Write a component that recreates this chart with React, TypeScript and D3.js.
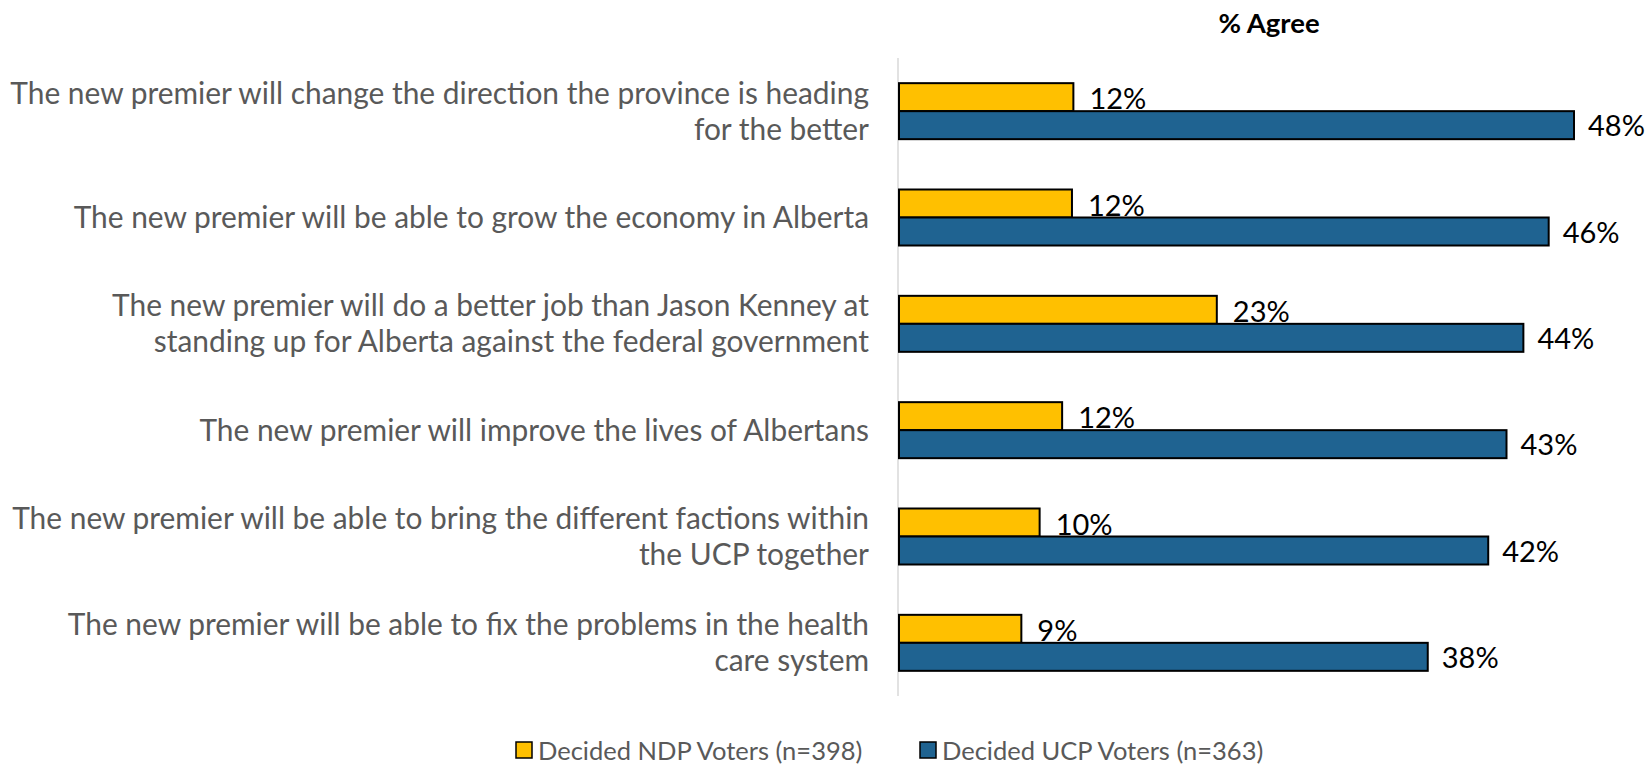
import * as d3 from "d3";

const categories = [
  ["The new premier will change the direction the province is heading", "for the better"],
  ["The new premier will be able to grow the economy in Alberta"],
  ["The new premier will do a better job than Jason Kenney at", "standing up for Alberta against the federal government"],
  ["The new premier will improve the lives of Albertans"],
  ["The new premier will be able to bring the different factions within", "the UCP together"],
  ["The new premier will be able to fix the problems in the health", "care system"],
];
const ndpValues = [12.4, 12.3, 22.6, 11.6, 10.0, 8.7];
const ucpValues = [48.0, 46.2, 44.4, 43.2, 41.9, 37.6];
const seriesNames = ["Decided NDP Voters (n=398)", "Decided UCP Voters (n=363)"];
const seriesColors = ["#FFC000", "#1F6391"];

const W = 1649;
const H = 765;
const font = "Lato, 'Open Sans', sans-serif";

const App = () => {
  const x = d3.scaleLinear().domain([0, 48]).range([899, 1574]);
  const y = d3
    .scaleBand<number>()
    .domain(d3.range(categories.length))
    .range([58, 696]);
  const barH = 28;
  const fmt = (v: number) => `${Math.round(v)}%`;

  return (
    <svg width={W} height={H} style={{ display: "block", position: "absolute", left: 0, top: 0 }} fontFamily={font}>
      <rect width={W} height={H} fill="#fff" />
      <text x={1269} y={33} textAnchor="middle" fontSize={27.5} fontWeight="bold" fill="#000">
        % Agree
      </text>
      <line x1={898} x2={898} y1={58} y2={696} stroke="#D9D9D9" strokeWidth={1.5} />
      {categories.map((lines, i) => {
        const cy = (y(i) ?? 0) + y.bandwidth() / 2;
        const lh = 36;
        const top = cy - ((lines.length - 1) * lh) / 2;
        return (
          <g key={i}>
            {lines.map((ln, j) => (
              <text key={j} x={869} y={top + j * lh} dy="0.35em" textAnchor="end" fontSize={29.9} fill="#595959">
                {ln}
              </text>
            ))}
            <rect x={x(0)} y={cy - barH} width={x(ndpValues[i]) - x(0)} height={barH} fill={seriesColors[0]} stroke="#000" strokeWidth={2} />
            <rect x={x(0)} y={cy} width={x(ucpValues[i]) - x(0)} height={barH} fill={seriesColors[1]} stroke="#000" strokeWidth={2} />
            <text x={x(ndpValues[i]) + 16} y={cy - barH / 2 + 2} dy="0.35em" fontSize={29} fill="#000">
              {fmt(ndpValues[i])}
            </text>
            <text x={x(ucpValues[i]) + 14} y={cy + barH / 2 + 1} dy="0.35em" fontSize={29} fill="#000">
              {fmt(ucpValues[i])}
            </text>
          </g>
        );
      })}
      {seriesNames.map((name, k) => {
        const lx = k === 0 ? 516 : 920;
        return (
          <g key={name}>
            <rect x={lx} y={742} width={16} height={16} fill={seriesColors[k]} stroke="#000" strokeWidth={1.5} />
            <text x={lx + 22} y={751} dy="0.35em" fontSize={25.5} fill="#595959">
              {name}
            </text>
          </g>
        );
      })}
    </svg>
  );
};

export default App;
